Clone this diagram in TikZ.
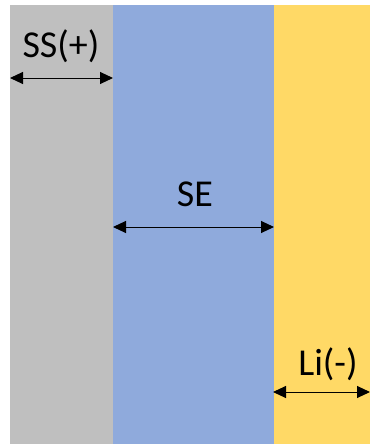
\documentclass[tikz,border=0pt]{standalone}
\usepackage{fontspec}
\setmainfont{Carlito}
\usetikzlibrary{arrows.meta}
\definecolor{ssgray}{HTML}{BFBFBF}
\definecolor{seblue}{HTML}{8FAADC}
\definecolor{liyellow}{HTML}{FFD966}
\tikzset{
    dimarrow/.style={{Triangle[length=13pt,width=12pt]}-{Triangle[length=13pt,width=12pt]}, line width=1pt},
    layerlabel/.style={font=\fontsize{38}{44}\selectfont, inner sep=0pt}
}
\begin{document}
\begin{tikzpicture}[x=1pt,y=-1pt]
    \useasboundingbox (0,0) rectangle (370,444);
    % Layers
    \fill[ssgray] (10,5) rectangle (113,444);
    \fill[seblue] (113,5) rectangle (274,444);
    \fill[liyellow] (274,5) rectangle (370,444);

    % Arrow coordinates
    \coordinate (SSLeft) at (10,78);
    \coordinate (SSRight) at (113,78);
    \coordinate (SELeft) at (113,227);
    \coordinate (SERight) at (274,227);
    \coordinate (LiLeft) at (273,392);
    \coordinate (LiRight) at (370,392);

    % Arrows
    \draw[dimarrow] (SSLeft) -- (SSRight);
    \draw[dimarrow] (SELeft) -- (SERight);
    \draw[dimarrow] (LiLeft) -- (LiRight);

    % Labels
    \node[layerlabel] (SSLabel) at (61,46) {SS(+)};
    \node[layerlabel] (SELabel) at (195,194) {SE};
    \node[layerlabel] (LiLabel) at (328,364) {Li(-)};
\end{tikzpicture}
\end{document}
